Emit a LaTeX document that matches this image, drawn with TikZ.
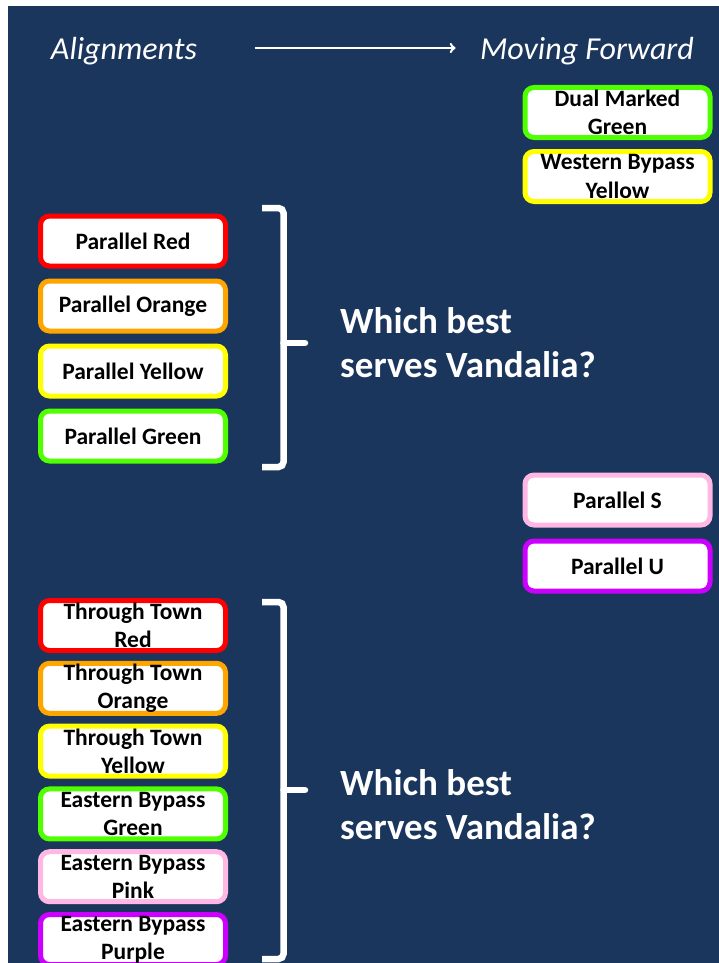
\documentclass[tikz,border=0pt]{standalone}
\usepackage{fontspec}
\setmainfont{Carlito}
\usetikzlibrary{arrows}
\definecolor{navy}{RGB}{27,54,93}
\definecolor{rline}{RGB}{255,0,0}
\definecolor{oline}{RGB}{255,165,0}
\definecolor{yline}{RGB}{255,255,0}
\definecolor{gline}{RGB}{80,255,0}
\definecolor{pline}{RGB}{255,184,228}
\definecolor{uline}{RGB}{204,0,255}
\tikzstyle{choice} = [rectangle, rounded corners=9pt, minimum width=185pt, minimum height=50pt, inner sep=0pt, text centered, align=center, fill=white, line width=5pt, font=\bfseries\fontsize{23.5}{28.5}\selectfont]
\tikzstyle{heading} = [text=white, font=\itshape\fontsize{32}{38}\selectfont]
\tikzstyle{question} = [text=white, align=left, anchor=base west, inner sep=0pt, font=\bfseries\fontsize{37}{44}\selectfont]
\tikzstyle{bracket} = [white, line width=6.5pt, rounded corners=5pt]
\tikzstyle{arrow} = [white, line width=2.5pt, ->, >=to]

\begin{document}
\begin{tikzpicture}[x=1pt, y=-1pt]
        \useasboundingbox (0,0) rectangle (719,963);
        \fill[white] (0,0) rectangle (719,963);
        \fill[navy] (8,6) rectangle (719,963);

        \node (align) [heading] at (124,51) {Alignments};
        \node (forward) [heading] at (587,51) {Moving Forward};
        \draw [arrow, shorten <=54pt, shorten >=21pt] ([yshift=3pt]align.east) -- ([yshift=3pt]forward.west);

        % moving forward
        \node (dual) [choice, draw=gline] at (617.5,112.5) {Dual Marked\\Green};
        \node (western) [choice, draw=yline, below of=dual, node distance=64pt] {Western Bypass\\Yellow};
        \node (pars) [choice, draw=pline] at (617.5,500) {Parallel S};
        \node (paru) [choice, draw=uline, below of=pars, node distance=66pt] {Parallel U};

        % parallel group
        \node (pred) [choice, draw=rline] at (133,241) {Parallel Red};
        \node (porange) [choice, draw=oline, below of=pred, node distance=65pt] {Parallel Orange};
        \node (pyellow) [choice, draw=yline, below of=porange, node distance=65pt] {Parallel Yellow};
        \node (pgreen) [choice, draw=gline, below of=pyellow, node distance=65pt] {Parallel Green};

        \draw [bracket] (262,208) -- (283.5,208) -- (283.5,343) -- (283.5,467) -- (262,467);
        \draw [bracket, line cap=round] (283.5,343) -- (305,343);
        \node (ask1) [question] at (340,377) {Which best\\serves Vandalia?};

        % through town and eastern bypass group
        \node (tred) [choice, draw=rline] at (133,625.5) {Through Town\\Red};
        \node (torange) [choice, draw=oline, below of=tred, node distance=62.8pt] {Through Town\\Orange};
        \node (tyellow) [choice, draw=yline, below of=torange, node distance=62.8pt] {Through Town\\Yellow};
        \node (egreen) [choice, draw=gline, below of=tyellow, node distance=62.8pt] {Eastern Bypass\\Green};
        \node (epink) [choice, draw=pline, below of=egreen, node distance=62.8pt] {Eastern Bypass\\Pink};
        \node (epurple) [choice, draw=uline, below of=epink, node distance=62.8pt] {Eastern Bypass\\Purple};

        \draw [bracket] (262,602) -- (283.5,602) -- (283.5,790) -- (283.5,959) -- (262,959);
        \draw [bracket, line cap=round] (283.5,790) -- (305,790);
        \node (ask2) [question] at (340,839) {Which best\\serves Vandalia?};
\end{tikzpicture}
\end{document}
